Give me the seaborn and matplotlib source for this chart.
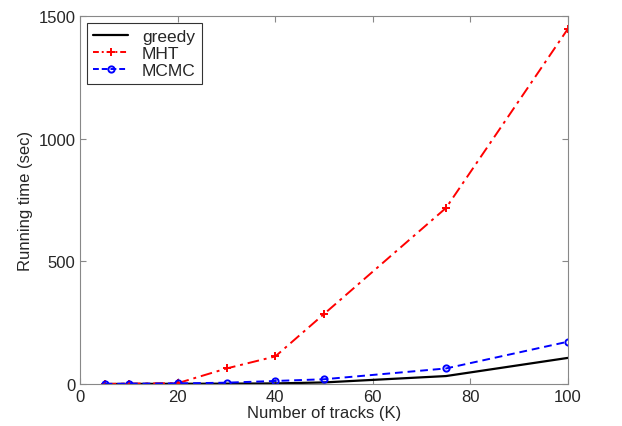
import matplotlib
matplotlib.use("Agg")
import matplotlib.pyplot as plt
import seaborn as sns
import pandas as pd

tracks = [5, 10, 20, 30, 40, 50, 75, 100]
greedy = [0.5, 1, 1.5, 2, 3, 7, 33, 107]
mht = [1, 2, 4, 64, 113, 286, 718, 1448]
mcmc = [1, 2, 3, 6, 13, 20, 64, 173]

sns.set_style("white")
plt.rcParams['font.family'] = ['Liberation Sans', 'DejaVu Sans']

df = pd.DataFrame({"K": tracks, "greedy": greedy, "MHT": mht, "MCMC": mcmc})

fig = plt.figure(figsize=(6.22, 4.27), dpi=100)
ax = fig.add_axes([0.129, 0.098, 0.784, 0.862])

sns.lineplot(data=df, x="K", y="greedy", ax=ax, color="black", linewidth=1.6, label="greedy")
l2 = sns.lineplot(data=df, x="K", y="MHT", ax=ax, color="red", linewidth=1.4,
             marker="+", markersize=6, markeredgewidth=1.4, markeredgecolor="red", label="MHT")
ax.lines[-1].set_dashes([6, 2.5, 1.5, 2.5])
sns.lineplot(data=df, x="K", y="MCMC", ax=ax, color="blue", linewidth=1.4,
             marker="o", markersize=4.5, markerfacecolor="none", markeredgewidth=1.4,
             markeredgecolor="blue", label="MCMC")
ax.lines[-1].set_dashes([4, 2.5])

ax.set_xlim(0, 100)
ax.set_ylim(0, 1500)
ax.set_xticks([0, 20, 40, 60, 80, 100])
ax.set_yticks([0, 500, 1000, 1500])
ax.set_xlabel("Number of tracks (K)", fontsize=12, labelpad=1)
ax.set_ylabel("Running time (sec)", fontsize=12)
ax.tick_params(direction="in", labelsize=12, length=4, color="#888888",
               top=True, right=True, bottom=True, left=True)
for s in ax.spines.values():
    s.set_color("#888888")
    s.set_linewidth(0.8)

leg = ax.legend(loc="upper left", fontsize=12.5, frameon=True, fancybox=False,
                edgecolor="black", handlelength=2.0, borderpad=0.35, labelspacing=0.1,
                borderaxespad=0.4)
leg.get_frame().set_linewidth(0.8)
for h in leg.get_lines():
    if h.get_label() == "MHT":
        h.set_dashes([3, 1.5, 1, 1.5])
    elif h.get_label() == "MCMC":
        h.set_dashes([3, 1.5])

fig.savefig("out.png", dpi=100)
